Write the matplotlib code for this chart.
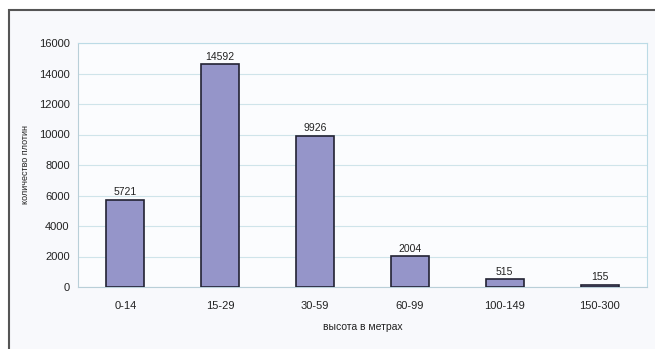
import matplotlib
matplotlib.use("Agg")
import matplotlib.pyplot as plt
from matplotlib.patches import Rectangle

plt.rcParams["font.family"] = ["Liberation Sans", "DejaVu Sans"]

categories = ["0-14", "15-29", "30-59", "60-99", "100-149", "150-300"]
counts = [5721, 14592, 9926, 2004, 515, 155]

fig = plt.figure(figsize=(6.55, 3.49), dpi=100)
fig.patch.set_facecolor("white")

# outer frame of the chart (runs off the right and bottom edges)
frame = Rectangle((9 / 655, -0.05), 1.0, 1.05 - 10 / 349, transform=fig.transFigure,
                  facecolor="#f8f9fc", edgecolor="#555555", lw=1.5, zorder=-10)
fig.patches.append(frame)

ax = fig.add_axes([78 / 655, 1 - 287 / 349, (647 - 78) / 655, (287 - 43) / 349])
ax.set_facecolor("#fbfcfe")
x = range(len(categories))
ax.bar(x, counts, width=0.4, color="#9595c9", edgecolor="#222233", lw=1.2, zorder=3)
for i, v in zip(x, counts):
    ax.text(i, v + 150, str(v), ha="center", va="bottom", fontsize=7.5, color="#222222")

ax.set_xlim(-0.5, len(categories) - 0.5)
ax.set_ylim(0, 16000)
ax.set_yticks(range(0, 16001, 2000))
ax.set_xticks(list(x))
ax.set_xticklabels(categories)
ax.tick_params(axis="both", labelsize=8, colors="#222222", length=0, pad=6)
ax.tick_params(axis="x", pad=10)
ax.grid(axis="y", color="#cfe4ea", lw=0.8, zorder=0)
for s in ["top", "right"]:
    ax.spines[s].set_color("#bcdbe6")
for s in ["left", "bottom"]:
    ax.spines[s].set_color("#b9cfd8")

ax.set_ylabel("количество плотин", fontsize=6.5, color="#222222", labelpad=6)
ax.set_xlabel("высота в метрах", fontsize=7.5, color="#222222", labelpad=8)

fig.savefig("out.png", dpi=100)
